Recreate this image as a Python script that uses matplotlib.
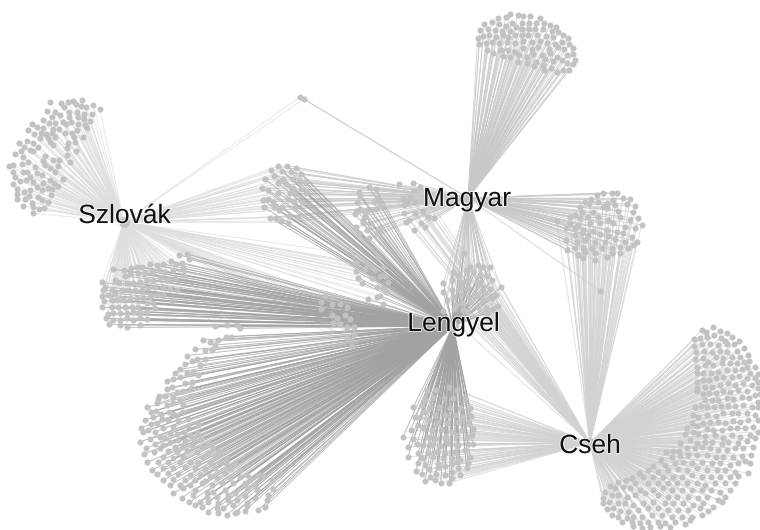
import matplotlib
matplotlib.use("Agg")
import matplotlib.pyplot as plt
from matplotlib.collections import LineCollection
import matplotlib.patheffects as pe

hub_names = ["Szlovák", "Magyar", "Lengyel", "Cseh"]
hub_x = [124, 468, 453, 590]
hub_y = [222, 198, 326, 443]
label_x = [124.5, 467, 453.5, 590]
label_y = [216, 199, 324, 446]

# node readings, in 3x crop units: origin of the crop is stored with each group
only_szlovak = [(150,37),(184,38),(205,35),(218,32),(247,29),(228,42),(243,48),(258,50),(280,46),(299,56),(140,62),(165,65),(192,52),(208,65),(232,65),(252,72),(277,72),(155,82),(181,76),(208,80),(233,82),(252,88),(270,93),(128,90),(147,100),(165,100),(190,97),(214,97),(235,103),(255,105),(97,102),(110,112),(130,115),(158,118),(178,117),(198,103),(230,120),(262,115),(85,121),(103,133),(122,130),(138,132),(155,130),(195,130),(215,128),(250,140),(120,145),(145,145),(165,140),(222,140),(82,152),(100,158),(57,160),(150,155),(205,160),(225,155),(73,170),(90,180),(115,170),(160,165),(200,175),(228,183),(46,192),(62,183),(100,182),(135,198),(200,195),(68,200),(130,212),(160,210),(178,210),(210,215),(85,215),(28,227),(40,225),(65,222),(105,232),(135,225),(175,227),(150,235),(38,247),(68,247),(80,245),(110,250),(125,255),(165,245),(45,262),(90,260),(150,270),(190,267),(60,273),(78,270),(100,277),(40,283),(128,280),(162,278),(110,290),(145,295),(175,288),(50,297),(73,305),(90,300),(125,300),(155,298),(50,312),(88,318),(113,322),(152,316),(52,328),(75,328),(127,330),(145,335),(68,347),(95,338),(98,352),(118,358),(132,353),(100,370)]
szlovak_lengyel = [(538,495),(560,492),(568,507),(545,518),(512,513),(527,523),(490,522),(470,525),(450,522),(425,530),(410,530),(392,533),(373,540),(340,537),(550,535),(520,540),(495,545),(478,540),(455,545),(435,548),(415,550),(390,553),(375,557),(345,570),(305,577),(315,590),(550,555),(525,565),(500,570),(480,565),(460,570),(440,570),(420,575),(400,580),(380,578),(358,580),(335,600),(310,600),(530,600),(510,598),(490,590),(465,590),(445,595),(425,600),(405,600),(385,600),(365,600),(345,610),(325,615),(305,617),(515,632),(490,615),(470,615),(450,620),(430,625),(410,625),(390,625),(370,630),(350,630),(335,630),(313,632),(460,640),(440,640),(415,650),(395,652),(375,650),(355,652),(335,650),(305,652),(465,655),(440,665),(420,665),(400,665),(380,670),(360,670),(340,670),(325,672),(440,688),(420,685),(400,690),(380,685),(360,690),(340,690),(318,685),(420,705),(380,712),(360,705),(328,703)]
near_lengyel_a = [(225,437),(245,440),(212,455),(270,462),(245,462),(290,470),(212,478),(285,495),(300,507),(245,495),(262,505),(270,522),(250,520),(290,530),(313,530),(313,553),(290,560)]
near_lengyel_b = [(255,18),(290,15),(320,15),(330,25),(610,10),(630,12),(650,20),(672,20),(650,50),(672,42),(660,60),(665,78)]
only_lengyel = [(218,60),(240,65),(265,60),(287,50),(302,50),(255,75),(195,88),(225,90),(245,90),(170,107),(225,117),(200,118),(185,122),(165,132),(210,135),(150,148),(135,158),(172,158),(188,155),(205,165),(150,170),(128,178),(112,183),(185,185),(165,190),(125,202),(110,208),(142,215),(158,212),(182,205),(105,228),(87,228),(128,230),(85,237),(150,240),(183,228),(110,255),(160,255),(52,262),(80,250),(130,250),(62,275),(78,272),(118,275),(160,275),(93,283),(130,283),(45,300),(70,292),(95,298),(115,300),(145,300),(175,298),(62,312),(82,310),(100,325),(130,320),(175,318),(205,315),(33,323),(55,330),(38,337),(75,335),(120,340),(140,342),(162,335),(200,338),(180,345),(90,352),(105,355),(60,358),(30,366),(120,365),(145,360),(165,362),(190,355),(212,358),(75,372),(100,375),(135,380),(160,378),(185,375),(235,370),(48,385),(90,385),(215,380),(250,385),(42,402),(72,395),(115,392),(140,395),(170,392),(200,395),(268,395),(235,398),(100,410),(130,415),(160,410),(220,410),(290,415),(255,408),(52,427),(85,425),(115,425),(180,425),(150,425),(205,430),(240,425),(270,425),(315,432),(288,430),(65,450),(100,445),(130,445),(165,440),(195,445),(225,448),(255,445),(300,445),(330,450),(80,462),(115,460),(145,462),(180,465),(210,465),(240,468),(285,458),(350,465),(385,465),(450,462),(100,480),(130,478),(165,480),(195,480),(225,482),(260,475),(300,475),(330,470),(360,475),(400,468),(120,495),(150,495),(180,495),(215,490),(245,495),(275,490),(310,490),(345,490),(375,495),(425,480),(130,520),(160,505),(195,510),(230,515),(250,515),(285,510),(315,518),(350,505),(380,510),(430,508),(155,533),(190,525),(230,530),(262,530),(295,525),(345,528),(375,535),(415,525),(178,547),(210,545),(235,545),(265,550),(295,540),(320,540),(350,550),(410,540),(195,555),(215,562),(235,575),(260,565),(280,565),(310,555),(350,558),(290,585),(265,578),(315,578),(345,572),(320,575),(385,570),(405,560)]
only_cseh = [(335,30),(348,35),(370,22),(390,32),(410,40),(312,58),(330,55),(350,52),(372,45),(392,55),(425,52),(447,63),(405,62),(312,77),(335,72),(360,72),(385,75),(410,72),(432,73),(462,85),(318,95),(342,92),(365,95),(390,92),(412,95),(440,92),(475,105),(316,117),(338,115),(355,125),(378,110),(400,115),(425,110),(450,110),(478,122),(462,125),(322,142),(345,135),(370,135),(395,130),(420,130),(440,128),(495,142),(470,142),(320,160),(340,158),(362,158),(385,155),(410,150),(435,150),(455,148),(480,160),(505,162),(322,185),(340,180),(358,180),(378,175),(400,170),(425,170),(447,168),(470,175),(495,175),(505,185),(322,205),(345,200),(365,200),(390,195),(415,190),(435,195),(460,190),(485,195),(505,205),(322,212),(340,222),(358,220),(378,218),(400,212),(420,215),(445,210),(470,212),(495,225),(510,222),(345,240),(365,240),(385,240),(410,235),(430,238),(455,230),(478,235),(505,245),(315,262),(332,258),(352,260),(372,262),(392,258),(415,258),(435,258),(460,255),(485,260),(503,262),(308,285),(325,290),(350,285),(378,288),(400,280),(425,280),(445,278),(470,280),(495,285),(305,310),(320,318),(340,310),(360,305),(385,305),(405,308),(430,302),(450,305),(475,300),(505,300),(292,325),(310,335),(350,328),(370,330),(395,330),(420,325),(440,325),(465,325),(490,322),(285,342),(325,342),(345,348),(375,345),(400,355),(425,345),(450,350),(480,345),(505,335),(270,370),(300,360),(320,370),(345,365),(365,365),(395,372),(415,365),(445,368),(470,362),(495,355),(228,395),(248,392),(268,392),(290,385),(315,385),(335,382),(360,385),(385,390),(410,390),(435,385),(460,385),(490,380),(212,420),(245,410),(270,408),(295,405),(320,405),(350,405),(378,410),(400,410),(430,410),(455,408),(482,405),(190,437),(225,435),(255,428),(280,425),(305,428),(335,425),(365,428),(390,430),(420,435),(445,430),(465,422),(480,428),(173,450),(205,455),(235,450),(265,448),(290,450),(320,445),(350,450),(380,450),(405,450),(435,455),(475,460),(147,458),(190,472),(218,470),(250,470),(275,470),(305,465),(335,470),(362,470),(390,470),(420,470),(445,468),(125,475),(160,470),(108,480),(85,485),(60,498),(135,490),(175,490),(205,490),(235,490),(260,490),(290,490),(320,490),(345,495),(375,490),(405,490),(435,490),(45,515),(75,505),(100,500),(120,505),(150,510),(190,510),(220,505),(245,510),(275,510),(305,510),(335,510),(362,510),(390,515),(420,510),(40,535),(65,525),(85,525),(110,530),(135,525),(165,520),(205,525),(235,530),(260,530),(295,530),(325,535),(350,530),(385,540),(405,530),(40,550),(58,545),(85,550),(105,548),(130,555),(160,550),(190,545),(225,550),(250,548),(280,550),(310,555),(340,550),(370,560),(395,545),(50,567),(70,565),(90,572),(115,575),(145,570),(175,565),(205,565),(235,570),(265,570),(295,570),(330,565),(355,572),(65,585),(85,590),(110,595),(130,590),(155,590),(185,585),(215,585),(245,590),(275,590),(305,590),(335,585),(95,605),(125,605),(150,610),(175,605),(205,605),(225,610),(255,605),(285,612),(300,600),(130,618),(155,625),(180,622),(210,618),(240,620)]
only_magyar = [(150,43),(113,53),(137,52),(174,46),(190,48),(210,47),(240,55),(73,72),(95,65),(117,72),(137,78),(155,70),(168,80),(185,70),(207,68),(228,68),(253,68),(270,75),(287,80),(60,90),(85,88),(105,90),(125,92),(150,92),(185,88),(207,88),(225,88),(250,88),(275,92),(295,97),(53,113),(70,107),(88,105),(108,110),(128,105),(143,110),(165,105),(185,105),(205,105),(232,105),(258,108),(280,112),(310,105),(325,115),(58,133),(78,130),(97,125),(118,130),(140,125),(165,128),(190,122),(215,125),(240,122),(262,128),(285,133),(305,125),(328,133),(80,150),(100,160),(122,150),(145,150),(165,155),(190,145),(215,148),(235,140),(268,148),(295,140),(312,147),(340,145),(130,168),(150,172),(178,165),(200,172),(220,162),(245,165),(270,160),(292,170),(320,165),(340,162),(175,185),(200,190),(228,185),(255,178),(280,183),(305,180),(345,180),(322,188),(222,197),(250,195),(272,205),(253,210),(290,215),(310,210),(328,210),(340,193)]
magyar_cseh = [(410,584),(430,580),(455,578),(470,580),(392,597),(375,607),(388,612),(488,595),(510,598),(460,600),(440,608),(415,605),(360,620),(428,622),(465,615),(500,612),(525,618),(345,645),(365,635),(400,635),(440,625),(475,632),(518,635),(290,662),(330,650),(360,655),(385,650),(415,650),(445,660),(480,650),(510,660),(535,655),(330,670),(355,675),(390,670),(420,670),(460,670),(495,680),(525,685),(545,675),(318,685),(345,685),(370,690),(400,692),(440,690),(470,695),(515,710),(345,705),(365,700),(385,705),(420,703),(445,708),(490,700),(318,720),(350,725),(375,720),(405,725),(435,725),(465,718),(495,725),(530,725),(520,735),(322,750),(345,743),(370,745),(395,745),(425,745),(455,745),(480,740),(355,765),(375,755),(405,758),(440,770),(455,760),(480,760),(505,745),(368,775),(405,780)]
three_hubs = [(83,48),(112,47),(138,53),(62,60),(95,63),(122,65),(152,72),(45,87),(72,77),(100,87),(128,88),(147,97),(168,97),(85,100),(108,102),(37,113),(55,120),(130,115),(153,117),(168,130),(85,128),(120,130),(135,133),(38,150),(55,148),(68,155),(115,147),(133,157),(155,155),(42,172),(72,172),(97,172),(88,180),(135,175),(117,198),(145,200),(60,203),(77,203),(93,213),(115,218)]
magyar_lengyel_a = [(357,110),(378,118),(327,127),(330,138),(385,143),(320,157),(372,157),(390,165),(330,177),(352,182),(322,183),(315,193),(345,197),(375,178),(340,210),(360,218),(340,220),(318,232),(390,238),(352,240),(328,250),(380,250),(358,265)]
near_magyar = [(448,103),(490,98),(510,110),(492,122),(458,147),(480,140),(470,155),(495,155),(463,165),(495,190),(518,183),(463,190),(535,200),(552,203),(512,218),(478,210),(468,217),(525,230),(493,240)]
upper_lengyel = [(317,340),(350,342),(385,322),(365,350),(400,350),(318,363),(345,358),(375,360),(325,383),(335,398),(367,385),(390,378),(405,378),(415,395),(380,410),(398,413),(408,427),(380,440),(390,437),(355,447),(398,463)]
magyar_lengyel_b = [(642,308),(660,350),(683,345),(700,350),(720,350),(608,365),(625,375),(650,360),(668,365),(690,375),(710,378),(580,398),(605,390),(632,395),(655,390),(680,395),(727,390),(605,420),(630,410),(655,415),(700,410),(720,418),(753,412),(580,427),(610,440),(632,435),(655,440),(680,435),(705,430),(738,435),(590,450),(618,465),(640,458),(660,455),(700,450),(725,445),(612,478),(640,480),(685,470),(708,475),(743,467),(580,483),(730,480),(655,490),(710,490)]
lengyel_cseh = [(70,202),(75,232),(90,230),(110,150),(138,150),(162,175),(178,140),(200,150),(105,180),(130,170),(190,175),(225,175),(95,195),(120,200),(150,200),(180,205),(210,205),(240,205),(103,215),(135,225),(165,225),(195,225),(220,230),(243,228),(85,255),(118,240),(145,250),(172,250),(205,245),(235,250),(62,270),(100,265),(125,270),(155,268),(185,275),(215,270),(248,267),(38,292),(70,298),(80,312),(110,290),(135,298),(165,290),(200,285),(230,290),(245,285),(55,320),(100,315),(125,315),(150,318),(175,310),(205,315),(235,312),(248,312),(53,350),(85,338),(115,340),(140,335),(165,340),(195,335),(225,330),(95,355),(130,350),(160,355),(185,355),(210,360),(240,350),(85,370),(105,375),(145,372),(165,378),(185,372),(200,365),(235,368),(78,392),(118,388),(145,382),(205,383),(230,385),(95,402),(138,402),(165,405),(185,397),(210,405),(120,412),(105,422),(135,420),(152,428),(178,428),(185,415)]
single_top = [(900,291),(912,297)]
single_right = [(1800,873)]

# (points, crop origin, linked hubs as indices into hub_names)
groups = [
    (only_szlovak, (0, 90), [0]),
    (szlovak_lengyel, (0, 90), [0, 2]),
    (near_lengyel_a, (250, 150), [0, 2]),
    (near_lengyel_b, (130, 320), [0, 2]),
    (only_lengyel, (130, 320), [2]),
    (only_cseh, (590, 320), [3]),
    (only_magyar, (460, 0), [1]),
    (magyar_cseh, (460, 0), [1, 3]),
    (three_hubs, (250, 150), [0, 1, 2]),
    (magyar_lengyel_a, (250, 150), [1, 2]),
    (near_magyar, (250, 150), [1, 3]),
    (upper_lengyel, (250, 150), [0, 2]),
    (magyar_lengyel_b, (250, 150), [1, 2, 3]),
    (lengyel_cseh, (390, 340), [2, 3]),
    (single_top, (0, 0), [0, 1]),
    (single_right, (0, 0), [1, 3]),
]
edge_colors = ["#dedede", "#c8c8c8", "#a2a2a2", "#d2d2d2"]

fig = plt.figure(figsize=(7.6, 5.3), dpi=100)
ax = fig.add_axes([0, 0, 1, 1])
ax.set_xlim(0, 760)
ax.set_ylim(530, 0)
ax.axis("off")

segments = {i: [] for i in range(4)}
node_x, node_y = [], []
for points, (ox, oy), links in groups:
    for px, py in points:
        x, y = ox + px / 3, oy + py / 3
        node_x.append(x)
        node_y.append(y)
        for h in links:
            segments[h].append([(hub_x[h], hub_y[h]), (x, y)])

for h in [0, 3, 1, 2]:
    ax.add_collection(LineCollection(segments[h], colors=edge_colors[h],
                                     linewidths=0.6, alpha=0.8, zorder=1))

ax.scatter(node_x, node_y, s=19, c="#c2c2c2", linewidths=0, zorder=2)
ax.scatter(hub_x, hub_y, s=60, c="#c2c2c2", linewidths=0, zorder=2)

for name, lx, ly in zip(hub_names, label_x, label_y):
    ax.text(lx, ly, name, ha="center", va="center", fontsize=19,
            family="Liberation Sans", color="#111111", zorder=4,
            path_effects=[pe.withStroke(linewidth=1.5, foreground="white", alpha=0.7)])

fig.savefig("out.png", dpi=100)
